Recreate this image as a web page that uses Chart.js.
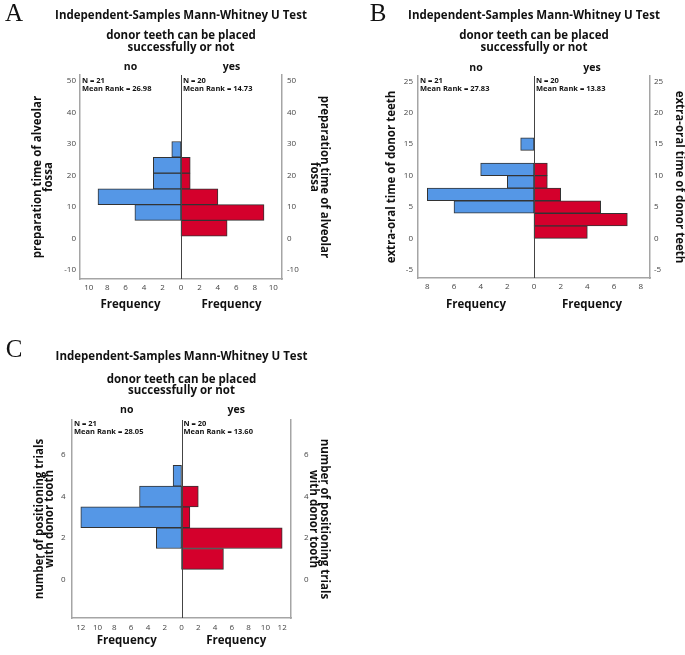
<!DOCTYPE html>
<html>
<head>
<meta charset="utf-8">
<script src="https://cdn.jsdelivr.net/npm/chart.js@4.4.0/dist/chart.umd.min.js"></script>
<style>
    body { margin: 0; background: #fff; }
    .panel { position: absolute; }
</style>
</head>
<body>
<div class="panel" style="left:0;top:0;width:340px;height:320px"><canvas id="chartA"></canvas></div>
<div class="panel" style="left:340px;top:0;width:345px;height:320px"><canvas id="chartB"></canvas></div>
<div class="panel" style="left:0;top:330px;width:340px;height:325px"><canvas id="chartC"></canvas></div>
<script>
// shared labels
const testTitle = 'Independent-Samples Mann-Whitney U Test';
const fieldTitle = ['donor teeth can be placed', 'successfully or not'];
const groups = ['no', 'yes'];

// A - preparation time of alveolar fossa (bins of 5)
const binsA = [3.25, 8.25, 13.25, 18.25, 23.25, 28.25];
const noA = [0, 5, 9, 3, 3, 1];
const yesA = [5, 9, 4, 1, 1, 0];
const nA = [21, 20];
const rankA = [26.98, 14.73];

// B - extra-oral time of donor teeth (bins of 2)
const binsB = [1, 3, 5, 7, 9, 11, 13, 15];
const noB = [0, 0, 6, 8, 2, 4, 0, 1];
const yesB = [4, 7, 5, 2, 1, 1, 0, 0];
const nB = [21, 20];
const rankB = [27.83, 13.83];

// C - number of positioning trials (bins of 1)
const binsC = [1, 2, 3, 4, 5];
const noC = [0, 3, 12, 5, 1];
const yesC = [5, 12, 1, 2, 0];
const nC = [21, 20];
const rankC = [28.05, 13.60];

const FONT = "'Open Sans', 'DejaVu Sans', sans-serif";
const BLUE = '#5597e6';
const RED = '#d4002c';
Chart.defaults.font.family = FONT;
Chart.defaults.color = '#444';

// draws the centre line and all the SPSS style labels around the plot
const panelText = {
    id: 'panelText',
    afterDatasetsDraw(chart, args, o) {
        const ctx = chart.ctx;
        const area = chart.chartArea;
        const x0 = chart.scales.x.getPixelForValue(0);
        const leftMid = (area.left + x0) / 2;
        const rightMid = (x0 + area.right) / 2;

        ctx.save();
        ctx.strokeStyle = '#444';
        ctx.lineWidth = 1;
        ctx.beginPath();
        ctx.moveTo(Math.round(x0) + 0.5, area.top);
        ctx.lineTo(Math.round(x0) + 0.5, area.bottom);
        ctx.stroke();

        ctx.fillStyle = '#111';
        ctx.textAlign = 'center';
        ctx.textBaseline = 'middle';

        ctx.font = "25px 'Liberation Serif', serif";
        ctx.fillText(o.letter, o.letterX, o.letterY);

        ctx.font = "bold 11.5px " + FONT;
        ctx.fillText(testTitle, x0, o.titleY);
        ctx.fillText(fieldTitle[0], x0, o.subY[0]);
        ctx.fillText(fieldTitle[1], x0, o.subY[1]);
        ctx.fillText('Frequency', leftMid, o.freqY);
        ctx.fillText('Frequency', rightMid, o.freqY);

        ctx.font = "bold 10.5px " + FONT;
        ctx.fillText(groups[0], leftMid, o.groupY);
        ctx.fillText(groups[1], rightMid, o.groupY);

        ctx.font = "bold 7.5px " + FONT;
        ctx.textAlign = 'left';
        ctx.fillText('N = ' + o.n[0], area.left + 2, o.nY);
        ctx.fillText('Mean Rank = ' + o.rank[0].toFixed(2), area.left + 2, o.nY + 8);
        ctx.fillText('N = ' + o.n[1], x0 + 2, o.nY);
        ctx.fillText('Mean Rank = ' + o.rank[1].toFixed(2), x0 + 2, o.nY + 8);
        ctx.restore();
    }
};

function yAxis(p, side) {
    return {
        type: 'linear',
        position: side,
        offset: false,
        min: p.ymin,
        max: p.ymax,
        grid: { display: false, drawTicks: false, offset: false },
        border: { color: '#a5a5a5', width: 1.5 },
        ticks: {
            stepSize: p.ystep,
            includeBounds: false,
            maxTicksLimit: 30,
            font: { size: 8 },
            padding: side === 'left' ? p.lpad : p.rpad
        },
        title: {
            display: true,
            text: p.ytitle,
            color: '#111',
            font: { size: 11.5, weight: 'bold', lineHeight: 0.9 },
            padding: { top: side === 'left' ? p.ltitle : p.rtitle, bottom: 0 }
        },
        afterFit: function (scale) {
            scale.width = side === 'left' ? p.lw : p.rw;
        }
    };
}

function makePanel(id, p) {
    const bar = {
        grouped: false,
        barPercentage: 1,
        categoryPercentage: 1,
        borderWidth: 1,
        borderColor: '#333',
        borderSkipped: false
    };
    return new Chart(document.getElementById(id), {
        type: 'bar',
        data: {
            datasets: [
                Object.assign({
                    label: groups[0],
                    data: p.bins.map((b, i) => ({ x: p.no[i] ? -p.no[i] : null, y: b })),
                    backgroundColor: BLUE
                }, bar),
                Object.assign({
                    label: groups[1],
                    data: p.bins.map((b, i) => ({ x: p.yes[i] ? p.yes[i] : null, y: b })),
                    backgroundColor: RED
                }, bar)
            ]
        },
        options: {
            indexAxis: 'y',
            animation: false,
            responsive: true,
            maintainAspectRatio: false,
            layout: { padding: { top: p.top, left: 0, right: 0, bottom: 0 } },
            plugins: {
                legend: { display: false },
                tooltip: { enabled: false },
                panelText: p.text
            },
            scales: {
                x: {
                    type: 'linear',
                    min: -p.fmax,
                    max: p.fmax,
                    grid: { display: false, drawTicks: false },
                    border: { color: '#a5a5a5', width: 1.5 },
                    ticks: {
                        stepSize: 2,
                        includeBounds: false,
                        autoSkip: false,
                        maxRotation: 0,
                        maxTicksLimit: 30,
                        font: { size: 8 },
                        padding: p.xpad,
                        callback: v => Math.abs(v)
                    },
                    afterFit: function (scale) { scale.height = p.xh; }
                },
                y: yAxis(p, 'left'),
                y2: yAxis(p, 'right')
            }
        },
        plugins: [panelText]
    });
}

makePanel('chartA', {
    bins: binsA, no: noA, yes: yesA,
    ymin: -12.8, ymax: 51.8, ystep: 10, fmax: 10.95,
    ytitle: ['preparation time of alveolar', 'fossa'],
    top: 75, lw: 80, rw: 58, xh: 41,
    lpad: 4, rpad: 5, xpad: 3.5, ltitle: 33, rtitle: 10.5,
    text: { letter: 'A', letterX: 14, letterY: 14, titleY: 16, subY: [36, 48], groupY: 67, nY: 81, freqY: 305, n: nA, rank: rankA }
});

makePanel('chartB', {
    bins: binsB, no: noB, yes: yesB,
    ymin: -6.3, ymax: 25.85, ystep: 5, fmax: 8.7,
    ytitle: 'extra-oral time of donor teeth',
    top: 76, lw: 78, rw: 35, xh: 42,
    lpad: 5, rpad: 4, xpad: 4, ltitle: 46.5, rtitle: 0.5,
    text: { letter: 'B', letterX: 38, letterY: 14, titleY: 16, subY: [35.7, 47.7], groupY: 67.7, nY: 80.5, freqY: 305, n: nB, rank: rankB }
});

makePanel('chartC', {
    bins: binsC, no: noC, yes: yesC,
    ymin: -1.84, ymax: 7.68, ystep: 2, fmax: 13.05,
    ytitle: ['number of positioning trials', 'with donor tooth'],
    top: 90, lw: 72, rw: 49, xh: 37,
    lpad: 6.5, rpad: 13, xpad: 5.2, ltitle: 34.5, rtitle: 11,
    text: { letter: 'C', letterX: 14, letterY: 20, titleY: 26.7, subY: [49.3, 60.7], groupY: 80, nY: 93.5, freqY: 311, n: nC, rank: rankC }
});
</script>
</body>
</html>
